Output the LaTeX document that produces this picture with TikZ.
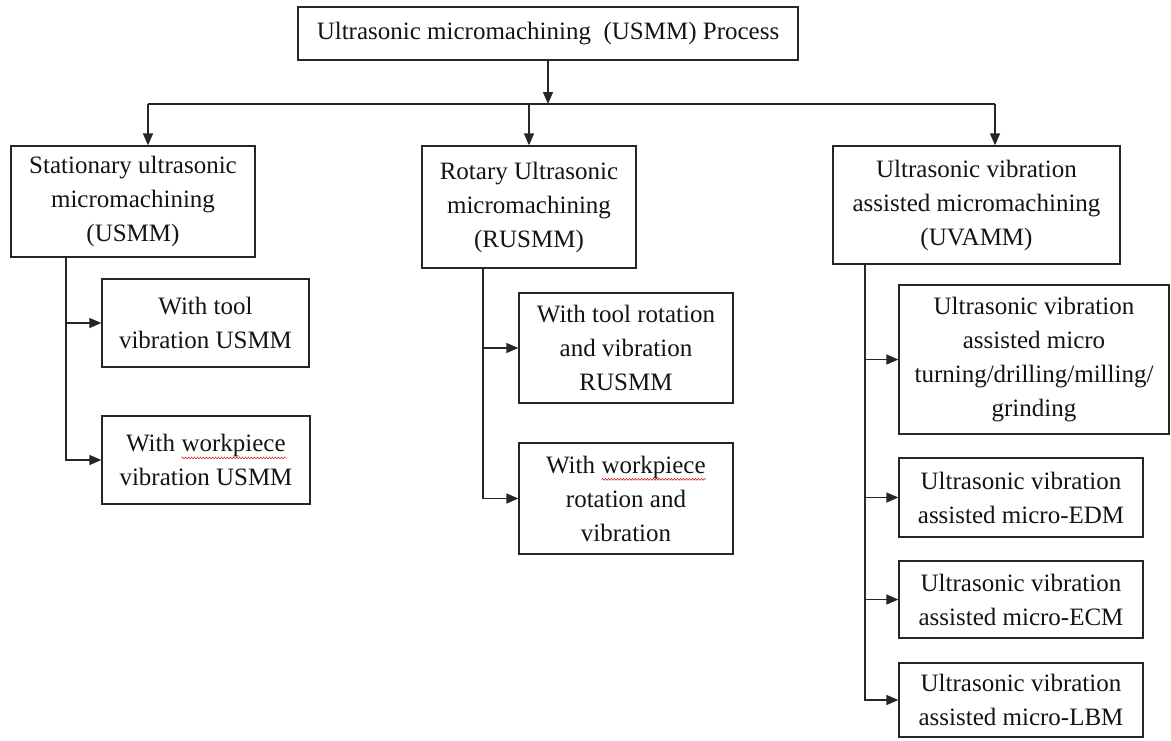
\documentclass[tikz,border=0pt]{standalone}
\usepackage{fontspec}
\setmainfont{Liberation Serif}
\usetikzlibrary{arrows.meta,decorations.pathmorphing}
\newcommand\redwave[1]{\tikz[baseline=(w.base),x=1pt,y=1pt]{\node[draw=none,inner sep=0pt,outer sep=0pt,minimum width=0pt,minimum height=0pt](w){#1};\draw[red!80!black,line width=0.5pt,decorate,decoration={snake,amplitude=0.8pt,segment length=3pt}] ([yshift=-1pt]w.south west) -- ([yshift=-1pt]w.south east);}}
\begin{document}
\begin{tikzpicture}[x=1pt,y=-1pt,
  box/.style={draw=black!85,line width=1.3pt,align=center,inner sep=2pt,
    font=\fontsize{25}{34}\selectfont,text=black!92},
  link/.style={draw=black!85,line width=1.3pt},
  arr/.style={link,-{Triangle[length=12pt,width=10pt]}}]
\useasboundingbox (0,0) rectangle (1171,740);
\fill[white] (0,0) rectangle (1171,740);
% nodes
\node[box,minimum width=500pt,minimum height=53pt] (top) at (548,33.5) {Ultrasonic micromachining\ \ (USMM) Process};
\node[box,minimum width=244pt,minimum height=111pt] (b1) at (133,201.5) {Stationary ultrasonic\\micromachining\\(USMM)};
\node[box,minimum width=214pt,minimum height=122pt] (b2) at (529,207) {Rotary Ultrasonic\\micromachining\\(RUSMM)};
\node[box,minimum width=287pt,minimum height=118pt] (b3) at (976.5,205) {Ultrasonic vibration\\assisted micromachining\\(UVAMM)};
\node[box,minimum width=207pt,minimum height=88pt] (b1a) at (205.5,323) {With tool\\vibration USMM};
\node[box,minimum width=208pt,minimum height=88pt] (b1b) at (206,460) {With \redwave{workpiece}\\vibration USMM};
\node[box,minimum width=214pt,minimum height=110pt] (b2a) at (626,348) {With tool rotation\\and vibration\\RUSMM};
\node[box,minimum width=214pt,minimum height=111pt] (b2b) at (626,498.5) {With \redwave{workpiece}\\rotation and\\vibration};
\node[box,minimum width=270pt,minimum height=149pt] (b3a) at (1034,359.5) {Ultrasonic vibration\\assisted micro\\turning/drilling/milling/\\grinding};
\node[box,minimum width=244pt,minimum height=79pt] (b3b) at (1021,497.5) {Ultrasonic vibration\\assisted micro-EDM};
\node[box,minimum width=244pt,minimum height=77pt] (b3c) at (1021,599.5) {Ultrasonic vibration\\assisted micro-ECM};
\node[box,minimum width=244pt,minimum height=74pt] (b3d) at (1021,700) {Ultrasonic vibration\\assisted micro-LBM};
% bus
\coordinate (busL) at (148,104);
\coordinate (busR) at (995,104);
\coordinate (s1) at (66,0);
\coordinate (s2) at (483,0);
\coordinate (s3) at (865,0);
\draw[link] (busL) -- (busR);
\draw[arr] (top.south) -- (top.south |- busL);
\draw[arr] (busL) -- (b1.north -| busL);
\draw[arr] (b2.north |- busL) -- (b2.north);
\draw[arr] (busR) -- (b3.north -| busR);
% branches
\draw[arr] (b1.south -| s1) |- (b1a);
\draw[arr] (b1.south -| s1) |- (b1b);
\draw[arr] (b2.south -| s2) |- (b2a);
\draw[arr] (b2.south -| s2) |- (b2b);
\draw[arr] (b3.south -| s3) |- (b3a);
\draw[arr] (b3.south -| s3) |- (b3b);
\draw[arr] (b3.south -| s3) |- (b3c);
\draw[arr] (b3.south -| s3) |- (b3d);
\end{tikzpicture}
\end{document}
